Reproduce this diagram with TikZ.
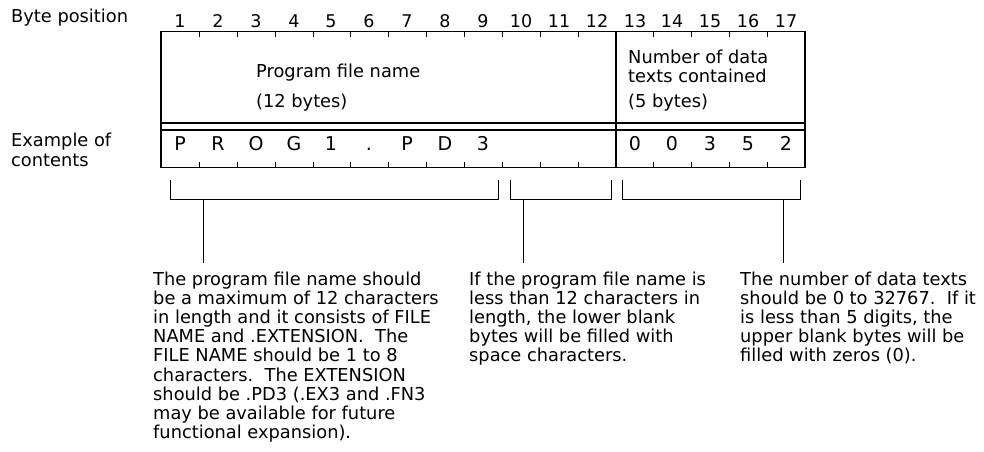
\documentclass[tikz,border=0pt]{standalone}
\usepackage{fontspec}
\setmainfont{DejaVu Sans}
\usepackage{tikz}

\tikzset{
  frame/.style={line width=1.1pt},
  tickmark/.style={line width=0.9pt},
  bracket/.style={line width=1pt},
  bytenum/.style={anchor=base,font=\fontsize{17.5}{22}\selectfont},
  bytechar/.style={anchor=base,font=\fontsize{19}{22}\selectfont},
  note/.style={anchor=base west,align=left}
}

\begin{document}
\begin{tikzpicture}[x=1pt,y=-1pt,every node/.style={font=\fontsize{17.8}{19.2}\selectfont,inner sep=0pt}]
\useasboundingbox (0,0) rectangle (984,451);
% labels on the left (base = last line)
\node[note] (bytepos) at (11,22) {Byte position};
\node[note] (example) at (11,166) {Example of\\contents};
% byte numbers
\node[bytenum] (n1) at (180,27) {1};
\node[bytenum] (n2) at (218,27) {2};
\node[bytenum] (n3) at (256,27) {3};
\node[bytenum] (n4) at (294,27) {4};
\node[bytenum] (n5) at (331,27) {5};
\node[bytenum] (n6) at (369,27) {6};
\node[bytenum] (n7) at (407,27) {7};
\node[bytenum] (n8) at (445,27) {8};
\node[bytenum] (n9) at (483,27) {9};
\node[bytenum] (n10) at (521,27) {10};
\node[bytenum] (n11) at (559,27) {11};
\node[bytenum] (n12) at (597,27) {12};
\node[bytenum] (n13) at (635,27) {13};
\node[bytenum] (n14) at (672,27) {14};
\node[bytenum] (n15) at (710,27) {15};
\node[bytenum] (n16) at (748,27) {16};
\node[bytenum] (n17) at (786,27) {17};
% the record frame
\draw[frame] (161,31.7) rectangle (805,167.7);
\draw[frame] (161,123) -- (805,123);
\draw[frame] (161,130) -- (805,130);
\draw[frame] (616,31.7) -- (616,167.7);
% byte ticks, top and bottom
\draw[tickmark] (199,31.7) -- (199,36.5) (237,31.7) -- (237,36.5) (275,31.7) -- (275,36.5)
  (313,31.7) -- (313,36.5) (350,31.7) -- (350,36.5) (388,31.7) -- (388,36.5)
  (426,31.7) -- (426,36.5) (464,31.7) -- (464,36.5) (502,31.7) -- (502,36.5)
  (540,31.7) -- (540,36.5) (578,31.7) -- (578,36.5) (653,31.7) -- (653,36.5)
  (691,31.7) -- (691,36.5) (729,31.7) -- (729,36.5) (767,31.7) -- (767,36.5);
\draw[tickmark] (199,167.7) -- (199,161.5) (237,167.7) -- (237,161.5) (275,167.7) -- (275,161.5)
  (313,167.7) -- (313,161.5) (350,167.7) -- (350,161.5) (388,167.7) -- (388,161.5)
  (426,167.7) -- (426,161.5) (464,167.7) -- (464,161.5) (502,167.7) -- (502,161.5)
  (540,167.7) -- (540,161.5) (578,167.7) -- (578,161.5) (653,167.7) -- (653,161.5)
  (691,167.7) -- (691,161.5) (729,167.7) -- (729,161.5) (767,167.7) -- (767,161.5);
% field names
\node[note] (fname) at (256,77) {Program file name};
\node[note] (fsize) at (256,107) {(12 bytes)};
\node[note] (dname) at (628,82.5) {Number of data\\texts contained};
\node[note] (dsize) at (628,107) {(5 bytes)};
% example contents
\node[bytechar] (c1) at (180,150) {P};
\node[bytechar] (c2) at (218,150) {R};
\node[bytechar] (c3) at (256,150) {O};
\node[bytechar] (c4) at (294,150) {G};
\node[bytechar] (c5) at (331,150) {1};
\node[bytechar] (c6) at (369,150) {.};
\node[bytechar] (c7) at (407,150) {P};
\node[bytechar] (c8) at (445,150) {D};
\node[bytechar] (c9) at (483,150) {3};
\node[bytechar] (c13) at (635,150) {0};
\node[bytechar] (c14) at (672,150) {0};
\node[bytechar] (c15) at (710,150) {3};
\node[bytechar] (c16) at (748,150) {5};
\node[bytechar] (c17) at (786,150) {2};
% brackets
\coordinate (b1l) at (170,180);
\coordinate (b1r) at (498,180);
\coordinate (b1s) at (203,199);
\coordinate (b2l) at (510,180);
\coordinate (b2r) at (611,180);
\coordinate (b2s) at (523,199);
\coordinate (b3l) at (622,180);
\coordinate (b3r) at (800,180);
\coordinate (b3s) at (783,199);
\draw[bracket] (b1l) -- (b1l |- b1s) -- (b1r |- b1s) -- (b1r);
\draw[bracket] (b2l) -- (b2l |- b2s) -- (b2r |- b2s) -- (b2r);
\draw[bracket] (b3l) -- (b3l |- b3s) -- (b3r |- b3s) -- (b3r);
% notes (base = last line)
\node[note] (note1) at (153,438.6) {The program file name should\\be a maximum of 12 characters\\in length and it consists of FILE\\NAME and .EXTENSION.\ \ The\\FILE NAME should be 1 to 8\\characters.\ \ The EXTENSION\\should be .PD3 (.EX3 and .FN3\\may be available for future\\functional expansion).};
\node[note] (note2) at (469,361.8) {If the program file name is\\less than 12 characters in\\length, the lower blank\\bytes will be filled with\\space characters.};
\node[note] (note3) at (740,361.8) {The number of data texts\\should be 0 to 32767.\ \ If it\\is less than 5 digits, the\\upper blank bytes will be\\filled with zeros (0).};
\coordinate (s1) at (203,263);
\coordinate (s2) at (523,263);
\coordinate (s3) at (783,263);
\draw[bracket] (b1s) -- (s1);
\draw[bracket] (b2s) -- (s2);
\draw[bracket] (b3s) -- (s3);
\end{tikzpicture}
\end{document}
